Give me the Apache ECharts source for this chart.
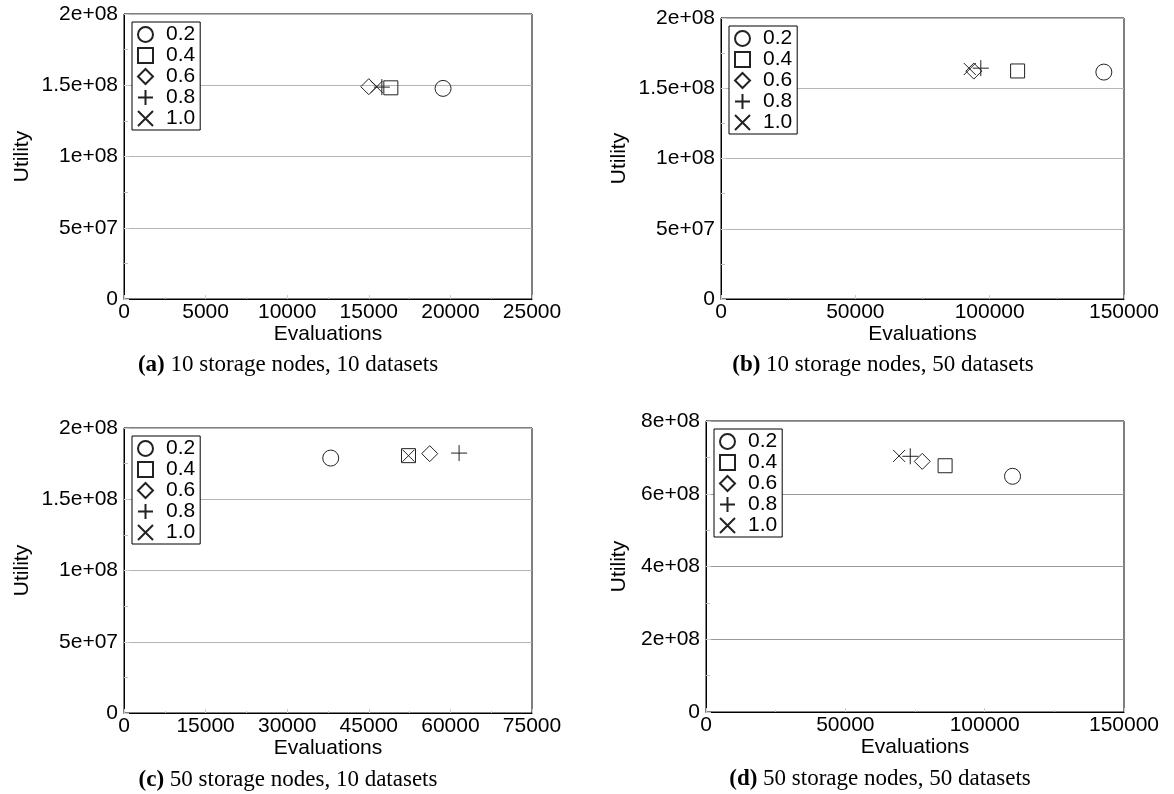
<!DOCTYPE html>
<html>
<head>
<meta charset="utf-8">
<script src="https://cdn.jsdelivr.net/npm/echarts@6/dist/echarts.min.js"></script>
<style>
  html, body { margin: 0; padding: 0; background: #fff; }
  #chart { width: 1174px; height: 794px; }
</style>
</head>
<body>
<div id="chart"></div>
<script>
// ---- data ----
const seriesNames = ['0.2', '0.4', '0.6', '0.8', '1.0'];

const aEval = [19550, 16350, 15000, 15800, 15480];
const aUtil = [1.478e8, 1.482e8, 1.490e8, 1.487e8, 1.489e8];

const bEval = [142500, 110400, 94100, 96700, 92600];
const bUtil = [1.615e8, 1.623e8, 1.622e8, 1.643e8, 1.637e8];

const cEval = [38000, 52300, 56200, 61600, 52300];
const cUtil = [1.789e8, 1.806e8, 1.820e8, 1.824e8, 1.806e8];

const dEval = [110000, 85800, 77600, 73300, 69300];
const dUtil = [6.48e8, 6.77e8, 6.89e8, 7.03e8, 7.04e8];

const yTicksSmall = ['0', '5e+07', '1e+08', '1.5e+08', '2e+08'];
const yTicksLarge = ['0', '2e+08', '4e+08', '6e+08', '8e+08'];
const xTicksA = ['0', '5000', '10000', '15000', '20000', '25000'];
const xTicksB = ['0', '50000', '100000', '150000'];
const xTicksC = ['0', '15000', '30000', '45000', '60000', '75000'];
const xTicksD = ['0', '50000', '100000', '150000'];

const captions = [
  ['(a)', ' 10 storage nodes, 10 datasets'],
  ['(b)', ' 10 storage nodes, 50 datasets'],
  ['(c)', ' 50 storage nodes, 10 datasets'],
  ['(d)', ' 50 storage nodes, 50 datasets']
];

// ---- styling / layout ----
const SANS = 'Liberation Sans, Arial, sans-serif';
const SERIF = 'Liberation Serif, Times New Roman, serif';
const FS = 21;
const CAP_FS = 23;

const panels = [
  { grid: { left: 124, top: 14, width: 408, height: 285 }, xs: aEval, ys: aUtil,
    xMax: 25000, xInt: 5000, xTicks: xTicksA, yMax: 2e8, yInt: 5e7, yTicks: yTicksSmall,
    nameGap: 91, gridColor: '#b5b5b5', cap: [288, 365] },
  { grid: { left: 721, top: 18, width: 403, height: 281 }, xs: bEval, ys: bUtil,
    xMax: 150000, xInt: 50000, xTicks: xTicksB, yMax: 2e8, yInt: 5e7, yTicks: yTicksSmall,
    nameGap: 91, gridColor: '#b5b5b5', cap: [883, 365] },
  { grid: { left: 124, top: 428, width: 408, height: 285 }, xs: cEval, ys: cUtil,
    xMax: 75000, xInt: 15000, xTicks: xTicksC, yMax: 2e8, yInt: 5e7, yTicks: yTicksSmall,
    nameGap: 91, gridColor: '#b5b5b5', cap: [288, 780] },
  { grid: { left: 706, top: 421, width: 418, height: 291 }, xs: dEval, ys: dUtil,
    xMax: 150000, xInt: 50000, xTicks: xTicksD, yMax: 8e8, yInt: 2e8, yTicks: yTicksLarge,
    nameGap: 76, gridColor: '#999999', cap: [880, 779] }
];

const symbols = [
  { symbol: 'circle', size: 16 },
  { symbol: 'rect', size: 14 },
  { symbol: 'diamond', size: 16 },
  { symbol: 'path://M8,0L8,16M0,8L16,8', size: 16 },
  { symbol: 'path://M0,0L16,16M16,0L0,16', size: 12 }
];

const grids = [], xAxes = [], yAxes = [], series = [], legends = [], graphics = [];

panels.forEach((p, i) => {
  grids.push(Object.assign({
    show: true, borderColor: '#000', borderWidth: 1, backgroundColor: 'transparent'
  }, p.grid));

  const xt = p.xTicks, xInt = p.xInt;
  xAxes.push({
    type: 'value', gridIndex: i, min: 0, max: p.xMax, interval: xInt,
    name: 'Evaluations', nameLocation: 'middle', nameGap: 23,
    nameTextStyle: { fontFamily: SANS, fontSize: FS, color: '#000' },
    axisLine: { show: true, lineStyle: { color: '#000', width: 1 } },
    axisTick: { show: true, inside: true, length: 4, lineStyle: { color: '#cccccc' } },
    minorTick: { show: true, splitNumber: 2, length: 2, lineStyle: { color: '#cccccc' } },
    axisLabel: {
      fontFamily: SANS, fontSize: FS, color: '#000', margin: 3,
      formatter: v => xt[Math.round(v / xInt)]
    },
    splitLine: { show: false }
  });

  const yt = p.yTicks, yInt = p.yInt;
  yAxes.push({
    type: 'value', gridIndex: i, min: 0, max: p.yMax, interval: yInt,
    name: 'Utility', nameLocation: 'middle', nameGap: p.nameGap,
    nameTextStyle: { fontFamily: SANS, fontSize: FS, color: '#000' },
    axisLine: { show: true, lineStyle: { color: '#000', width: 1 } },
    axisTick: { show: true, inside: true, length: 5, lineStyle: { color: '#cccccc' } },
    minorTick: { show: true, splitNumber: 2, length: 4, lineStyle: { color: '#bbbbbb' } },
    axisLabel: {
      fontFamily: SANS, fontSize: FS, color: '#000', margin: 6,
      formatter: v => yt[Math.round(v / yInt)]
    },
    splitLine: { show: true, lineStyle: { color: p.gridColor, width: 1 } }
  });

  seriesNames.forEach((nm, k) => {
    series.push({
      type: 'scatter', name: nm, xAxisIndex: i, yAxisIndex: i,
      symbol: symbols[k].symbol, symbolSize: symbols[k].size,
      itemStyle: { color: 'rgba(0,0,0,0)', borderColor: '#222', borderWidth: 1, opacity: 1 },
      emphasis: { disabled: true },
      data: [[p.xs[k], p.ys[k]]]
    });
  });

  legends.push({
    orient: 'vertical',
    left: p.grid.left + 8, top: p.grid.top + 8,
    data: seriesNames,
    itemWidth: 15, itemHeight: 15, itemGap: 0,
    padding: [2, 5, 1, 5],
    borderColor: '#000', borderWidth: 1, backgroundColor: '#fff',
    selectedMode: false,
    textStyle: { fontFamily: SANS, fontSize: FS, color: '#000', lineHeight: 21, padding: [0, 0, 0, 8] }
  });

  graphics.push({
    type: 'text', x: p.cap[0], y: p.cap[1],
    style: {
      text: '{b|' + captions[i][0] + '}' + captions[i][1],
      fontFamily: SERIF, fontSize: CAP_FS, fill: '#000',
      align: 'center', verticalAlign: 'middle',
      rich: { b: { fontFamily: SERIF, fontSize: CAP_FS, fontWeight: 'bold', fill: '#000' } }
    }
  });
});

const chart = echarts.init(document.getElementById('chart'), null, { renderer: 'canvas' });
chart.setOption({
  animation: false,
  backgroundColor: '#fff',
  grid: grids,
  xAxis: xAxes,
  yAxis: yAxes,
  legend: legends,
  series: series,
  graphic: graphics
});
</script>
</body>
</html>
